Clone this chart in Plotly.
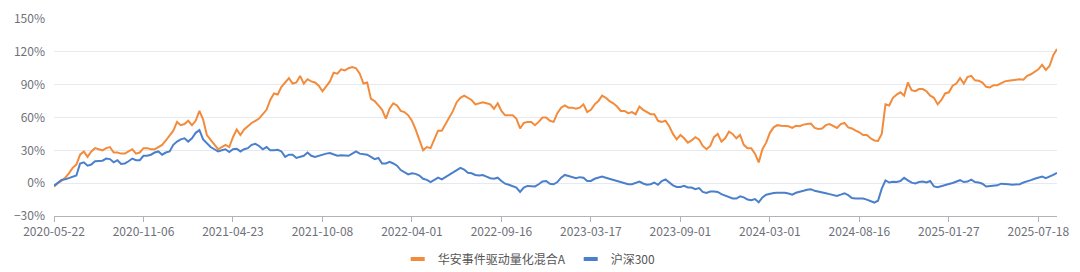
import plotly.graph_objects as go

tick_labels = ["2020-05-22", "2020-11-06", "2021-04-23", "2021-10-08", "2022-04-01", "2022-09-16",
               "2023-03-17", "2023-09-01", "2024-03-01", "2024-08-16", "2025-01-27", "2025-07-18"]

fund_name = "华安事件驱动量化混合A"
index_name = "沪深300"

fund = [
    -3, 0, 2, 5, 9, 14, 17, 26, 29, 24, 29, 32, 31, 30, 32, 33, 28, 28, 27, 27,
    29, 31, 27, 28, 32, 32, 31, 31, 33, 35, 39, 44, 48, 56, 53, 54, 57, 53, 57, 66,
    58, 44, 40, 36, 31, 33, 35, 33, 42, 49, 44, 49, 52, 55, 57, 59, 63, 67, 76, 82,
    81, 88, 92, 96, 91, 92, 98, 91, 95, 93, 92, 89, 84, 88, 93, 101, 100, 104, 103, 105,
    106, 105, 100, 91, 92, 77, 75, 71, 67, 59, 68, 73, 71, 66, 65, 62, 57, 49, 40, 30,
    33, 32, 40, 48, 48, 54, 61, 66, 74, 78, 80, 78, 76, 72, 73, 74, 73, 72, 68, 73,
    66, 62, 62, 62, 59, 50, 55, 56, 56, 53, 56, 60, 60, 57, 56, 64, 69, 71, 69, 69,
    68, 69, 72, 65, 67, 72, 75, 80, 78, 75, 73, 70, 66, 66, 64, 65, 63, 70, 67, 65,
    63, 63, 57, 56, 57, 52, 45, 40, 44, 41, 37, 39, 42, 40, 34, 31, 34, 42, 45, 38,
    41, 47, 45, 41, 44, 35, 32, 32, 27, 19, 31, 37, 46, 51, 53, 52.5, 52.5, 52, 50.5, 52.5,
    52, 53.5, 54, 54.5, 50.5, 49.5, 50, 53, 54, 52, 50.5, 54, 55, 51, 50, 48, 46.5, 44, 44, 41,
    39, 38.5, 45, 72, 71, 78, 81, 83, 80, 92, 85, 84, 86, 86, 84, 80, 78, 72, 76, 82,
    83, 89, 91, 96, 91, 97, 98, 94, 93.5, 92, 88, 87.5, 89.5, 89.5, 91, 93, 93.5, 94, 95, 95,
    94.5, 98, 99.5, 102, 104, 108, 103.5, 107, 117, 122.5,
]

hs300 = [
    -2.5, 0, 3, 3.5, 4.5, 6, 7, 18, 19, 16, 17, 20, 20, 20.5, 22.5, 22, 19, 21, 17.5, 18,
    20, 22.5, 21, 21, 25, 25, 26, 28, 29, 26, 28, 29, 35, 38, 40, 41, 38, 41, 46, 48.5,
    40, 36, 33, 31, 29, 30, 31, 28.5, 31, 31.5, 29, 31, 32, 35, 36, 34, 31, 33, 30, 30,
    30.5, 29, 24, 26, 26, 23, 24, 25, 28, 25, 24, 25, 26.5, 27, 27.5, 26, 25, 25.5, 25.5, 25,
    27, 29, 27, 26.5, 26, 24, 22, 23, 18, 18, 19.5, 18, 16, 12, 10, 8, 9, 8.5, 7, 4,
    3, 1, 3, 5, 3.5, 5.5, 8, 10, 12, 14, 12.5, 9.5, 9, 7.5, 7, 7.5, 6, 4.5, 4, 5,
    2, -0.5, -1.5, -2.5, -4, -8, -4, -2.5, -2.5, -3, -1, 1.5, 2, -0.5, -1, 1, 5, 7.5, 6.5, 5.5,
    4.5, 5.5, 5, 2, 2, 4, 5, 6, 5, 4, 3.5, 2, 1.5, 0.5, -1, -1, 0, 1.5, -0.3, -1.5,
    -1, 0.5, -1.5, 2, 3.4, 1, -2, -3.5, -3.5, -2.5, -4, -4, -5.5, -4.5, -8, -9, -7.6, -7.6, -8, -10,
    -11.5, -13, -14, -14, -12, -13, -15, -15.6, -14.5, -17.5, -13, -10.5, -9.5, -9, -8.8, -8.8, -8.7, -9.5, -10.5, -8.8,
    -7.6, -7, -6, -5.5, -7, -8, -8.5, -9.3, -10, -11, -11.6, -10.5, -9.2, -11, -13.5, -14, -14, -14, -15, -16.5,
    -17.7, -16, -5, 2.5, 0.6, 1.2, 1, 2, 5, 2.5, 0.5, -0.3, 1, 1.5, 0.6, 2, -3, -3.8, -3, -1.5,
    -0.8, 0.2, 1.5, 2.7, 1, 1.5, 3.2, 1, 0.6, -0.5, -3, -2.8, -2.7, -2, -0.5, -0.5, -1, -1.5, -1, -0.9,
    0.6, 2, 2.8, 4, 4.8, 6, 4.5, 5.8, 7.5, 9.3,
]

colors = {"fund": "#F28C3C", "index": "#4A80CB"}

idx = list(range(len(fund)))
tick_step = 24
tickvals = [k * tick_step for k in range(len(tick_labels))]

FONT = "Noto Sans CJK SC, Noto Sans, sans-serif"

fig = go.Figure()
fig.add_trace(go.Scatter(x=idx, y=fund, mode="lines", name=fund_name, showlegend=False,
                         line=dict(color=colors["fund"], width=2)))
fig.add_trace(go.Scatter(x=idx, y=hs300, mode="lines", name=index_name, showlegend=False,
                         line=dict(color=colors["index"], width=2)))
# legend entries with short bar-shaped icons
fig.add_trace(go.Scatter(x=[None], y=[None], mode="markers", name=fund_name,
                         marker=dict(symbol="line-ew-open", size=10, color=colors["fund"],
                                     line=dict(color=colors["fund"], width=4))))
fig.add_trace(go.Scatter(x=[None], y=[None], mode="markers", name=index_name,
                         marker=dict(symbol="line-ew-open", size=10, color=colors["index"],
                                     line=dict(color=colors["index"], width=4))))

fig.update_layout(
    width=1080, height=272,
    margin=dict(l=54, r=23, t=19, b=56, autoexpand=False),
    paper_bgcolor="white", plot_bgcolor="white",
    font=dict(family=FONT, size=12, color="#6E7079"),
    showlegend=True,
    legend=dict(orientation="h", x=0.49, xanchor="center", xref="container",
                y=1 - 259 / 272, yanchor="middle", yref="container",
                font=dict(size=12, color="#555555"), itemwidth=30,
                tracegroupgap=0, bgcolor="rgba(0,0,0,0)"),
    xaxis=dict(range=[0, len(fund) - 1], tickmode="array", tickvals=tickvals, ticktext=tick_labels,
               showgrid=False, zeroline=False, showline=True, linecolor="#B0B3BA", linewidth=1,
               ticks="outside", ticklen=5, tickcolor="#B0B3BA", automargin=False,
               tickfont=dict(size=12, color="#6E7079")),
    yaxis=dict(range=[-30, 150], tickmode="linear", tick0=-30, dtick=30, ticksuffix="%",
               showgrid=True, gridcolor="#E6E9F0", gridwidth=1, zeroline=False, showline=False,
               automargin=False, tickfont=dict(size=12, color="#6E7079"), ticklabelstandoff=8),
)

fig.write_html("out.html")
